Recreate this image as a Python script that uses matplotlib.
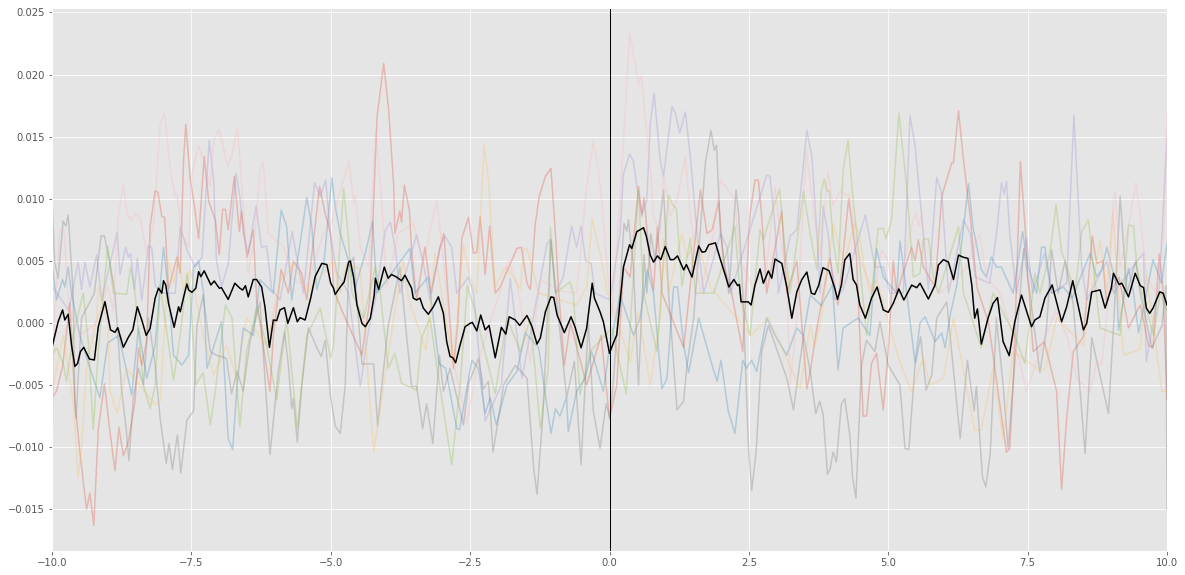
"""Single-trial traces around the event at t=0 with their mean on top."""
import numpy as np
import matplotlib
matplotlib.use("Agg")
import matplotlib.pyplot as plt

# (time, amplitude x 1e-3) for each trial
red = [(-10,-6),(-9.92,-5.5),(-9.81,-3.5),(-9.68,1.6),(-9.59,-6.3),(-9.5,-10.4),(-9.38,-15),(-9.32,-13.7),(-9.25,-16.3),(-9.17,-8.6),
       (-9.06,-4.9),(-8.96,-8.75),(-8.87,-11.9),(-8.8,-8.4),(-8.72,-10.7),(-8.63,-9.55),(-8.51,-6.3),(-8.45,-2),(-8.39,-3.4),(-8.3,-1.4),
       (-8.24,7.75),(-8.15,10.65),(-8.1,10.5),(-8.03,8.56),(-7.98,8.5),(-7.91,2.7),(-7.76,5.3),(-7.7,4),(-7.64,13.1),(-7.6,16),
       (-7.52,11.5),(-7.46,9.9),(-7.37,6.8),(-7.27,13.4),(-7.19,9.8),(-7.07,8.3),(-7.0,5.5),(-6.94,9.15),(-6.89,9.15),(-6.84,7.5),
       (-6.73,11.8),(-6.64,7.35),(-6.6,9),(-6.5,5.3),(-6.39,7.5),(-6.33,1.85),(-6.09,-5.5),(-6.03,-1),(-5.89,4.3),(-5.76,2.4),
       (-5.67,5),(-5.52,4),(-5.43,1.85),(-5.2,11),(-5.1,8.8),(-5.0,7.2),(-4.95,2.7),(-4.8,1),(-4.44,-2.6),(-4.3,1.85),
       (-4.17,16.6),(-4.05,20.9),(-3.96,17.1),(-3.87,11),(-3.85,7.2),(-3.76,9),(-3.73,8.1),(-3.68,11.1),(-3.59,9.1),(-3.55,5.9),
       (-3.46,1.85),(-3.31,6.1),(-3.2,2.4),(-3.04,6.1),(-2.97,7.2),(-2.89,1.85),(-2.8,-3.65),(-2.72,0),(-2.65,6.8),(-2.53,8.5),
       (-2.44,5.6),(-2.38,5.7),(-2.32,8.55),(-2.23,3.9),(-2.15,7.8),(-2.05,2.4),(-1.96,2.9),(-1.66,6),(-1.58,6.1),(-1.48,3.2),
       (-1.42,2.7),(-1.33,8),(-1.26,10.2),(-1.15,11.8),(-1.09,12.2),(-1.05,12.45),(-0.97,7.2),(-0.91,2.4),(-0.81,-3.4),(-0.7,0),
       (-0.41,-5),(-0.15,-1),(0,-7.7),(0.13,-5),(0.25,4.5),(0.37,3.7),(0.52,11),(0.58,8.6),(0.62,10.1),(0.73,4.5),
       (0.79,2.6),(0.86,7.75),(0.94,2.4),(1.33,-2),(1.63,10.7),(1.75,7.2),(1.84,7.5),(1.96,9.8),(2.05,4.5),(2.17,2.9),
       (2.39,-2.3),(2.52,8.8),(2.61,11.5),(2.67,11.5),(2.73,8.6),(2.82,2.4),(3.09,9),(3.18,2.4),(3.36,5),(3.54,-5.3),
       (3.6,-3.9),(3.72,-0.4),(3.95,5.2),(4.1,1.45),(4.29,10),(4.43,5.3),(4.55,-7.5),(4.61,-7.5),(4.7,-3.25),(4.79,-2.45),
       (4.91,-7),(5,-2.3),(5.09,5),(5.15,2.4),(5.42,6.1),(5.48,5),(5.54,6.7),(5.63,4.5),(5.84,2.9),(5.96,10.2),
       (6.08,12),(6.14,12.9),(6.17,12.9),(6.26,17.1),(6.35,13.1),(6.47,8.6),(6.59,2.9),(6.8,0),(7.06,-8.5),(7.12,-10.4),
       (7.18,-10.1),(7.25,-4),(7.37,13),(7.47,6.7),(7.53,1.85),(7.6,-2.3),(7.8,-1.5),(8.02,-5.5),(8.11,-13.4),(8.2,-7.7),
       (8.32,-2.3),(8.5,-1.1),(8.66,7),(8.74,4.8),(8.85,5),(8.91,1.85),(9.14,3.7),(9.31,-0.4),(9.52,1.45),(9.67,-1.8),
       (9.75,-2),(9.86,5.55),(9.93,2.6),(10,-6.2)]

blue = [(-10,4.8),(-9.92,1.85),(-9.81,3.5),(-9.77,2.9),(-9.71,4.5),(-9.65,2.4),(-9.5,-1),(-9.32,-3.65),(-9.14,-6),(-9,-1.6),
        (-8.8,-1),(-8.57,-5.8),(-8.45,-0.4),(-8.3,-4.45),(-8.15,-1.8),(-8,6.1),(-7.91,2.4),(-7.82,-2.6),(-7.67,-3.4),(-7.55,-2.6),
        (-7.46,4.5),(-7.37,5),(-7.28,2.4),(-7.22,-3.65),(-6.96,0.1),(-6.84,-9.3),(-6.76,-10.2),(-6.68,-5),(-6.57,-0.4),(-6.39,-1),
        (-6.27,3.5),(-6.03,2.4),(-5.89,9.1),(-5.79,7.75),(-5.7,1.85),(-5.43,10.1),(-5.34,7.75),(-5.25,2.7),(-5.13,4.5),(-4.98,11.7),
        (-4.92,9.4),(-4.83,7.2),(-4.68,5),(-4.56,2.9),(-4.38,5.6),(-4.25,8.2),(-4.17,2.4),(-3.58,6),(-3.49,2.4),(-3.25,3.7),
        (-3.06,-3.25),(-2.94,-3.65),(-2.74,-8.5),(-2.69,-8.6),(-2.47,-3),(-2.35,-3.65),(-2.23,-7.3),(-2.14,-6),(-2.03,-8.2),(-1.84,-5),
        (-1.66,-3.9),(-1.51,-0.8),(-1.27,-2),(-1.15,-5.8),(-1.05,-8.9),(-0.97,-6.9),(-0.89,-7.5),(-0.77,-6),(-0.74,-8.75),(-0.59,-5.5),
        (-0.44,-4.45),(-0.32,-2.3),(-0.11,-5.5),(-0.02,-2.6),(0.19,2.25),(0.43,-1),(0.55,0.4),(0.68,4.3),(0.79,2.4),(0.94,-5.3),
        (1.03,-4.5),(1.15,2.9),(1.22,2.9),(1.33,-1.8),(1.42,-4),(1.6,0.4),(1.84,-3.4),(1.93,-4.7),(2.0,-3),(2.13,-7.1),
        (2.25,-8.9),(2.39,-3),(2.46,-3.65),(2.55,-3),(2.64,-3.9),(2.82,0.4),(2.97,-1),(3.18,-2.6),(3.36,-0.4),(3.48,-1),
        (3.6,2.25),(3.8,1.4),(4.0,3.06),(4.1,-3.8),(4.19,-0.4),(4.46,0.4),(4.67,-1),(4.79,6),(4.91,3.7),(5.15,2.4),
        (5.21,6.6),(5.33,2.4),(5.48,-3.2),(5.57,0),(5.66,0.5),(5.84,-1.5),(5.96,-0.8),(6.02,-2),(6.11,0.6),(6.23,3.06),
        (6.44,11.2),(6.52,7.75),(6.67,4.3),(6.76,3.7),(6.85,5.3),(6.94,4.5),(7.03,4.5),(7.24,2.4),(7.41,7.35),(7.51,4.5),
        (7.66,2.4),(7.75,6.1),(7.81,6.1),(7.93,2.4),(8.14,2.9),(8.3,2),(8.62,5.6),(8.74,3.7),(8.83,4.3),(8.92,6.1),
        (9.1,2.9),(9.13,-0.6),(9.31,4.4),(9.4,2.4),(9.49,-0.8),(9.63,2.4),(9.75,5.1),(9.9,3.2),(10,6.4)]

purple = [(-10,3),(-9.7,1),(-9.53,4.9),(-9.47,2.7),(-9.41,4.9),(-9.32,2.9),(-9.2,5.5),(-9.11,1.85),(-8.83,7.3),(-8.78,3.9),
          (-8.68,6.1),(-8.63,5.3),(-8.59,5.6),(-8.52,2.7),(-8.47,5.2),(-8.39,1.85),(-8.27,6.2),(-8.21,6.1),(-8.15,3),(-8,2.4),
          (-7.79,2.4),(-7.7,7.75),(-7.58,5.9),(-7.43,4.5),(-7.31,5.3),(-7.18,14.7),(-7.1,11.5),(-7.05,5),(-6.96,2.9),(-6.84,4.7),
          (-6.7,12.1),(-6.63,10.2),(-6.57,7.2),(-6.48,5.6),(-6.34,9.4),(-6.24,6.1),(-6.15,6.2),(-6.06,2.7),(-5.91,1.85),(-5.69,7.35),
          (-5.61,5.3),(-5.49,2.4),(-5.29,11.3),(-5.19,10.2),(-5.09,11.5),(-5.01,7.2),(-4.89,4),(-4.68,2.4),(-4.47,-5.1),(-4.32,-0.5),
          (-4.2,1.85),(-4.02,7.5),(-3.93,8.1),(-3.84,5.9),(-3.76,2.4),(-3.46,7.1),(-3.34,4.8),(-3.22,1.85),(-3.04,6.1),(-2.95,7),
          (-2.83,6.1),(-2.74,2.4),(-2.53,3.7),(-2.44,2.4),(-2.23,-7.9),(-1.94,-5),(-1.78,3.6),(-1.57,-4.45),(-1.12,6.4),(-1.06,6.7),
          (-0.97,2.4),(-0.83,3.7),(-0.68,7.8),(-0.59,6.1),(-0.51,7.8),(-0.43,5),(-0.33,4.8),(-0.26,2.4),(0.01,1.85),(0.19,7.2),
          (0.25,12),(0.36,13.6),(0.43,13),(0.49,11),(0.58,8.8),(0.67,9.9),(0.73,16),(0.8,18.5),(0.91,13.1),(0.97,11.8),
          (1.12,17.4),(1.18,16.9),(1.26,15.3),(1.36,17),(1.45,13.4),(1.57,7.2),(1.69,2.4),(1.99,7.2),(2.11,6.1),(2.17,2.4),
          (2.82,11.9),(2.88,11.8),(2.97,7.75),(3.03,2.4),(3.24,7),(3.36,7.5),(3.54,15.5),(3.63,13.4),(3.72,7.2),(3.78,2.4),
          (3.83,9.4),(3.92,7.2),(4.04,1.85),(4.19,2.7),(4.59,8.7),(4.67,6.7),(4.76,4.5),(4.91,4.5),(5.03,2.4),(5.27,2.4),
          (5.39,16.7),(5.48,14.3),(5.6,8.6),(5.72,2.7),(5.87,11.7),(5.96,10.4),(6.08,2.4),(6.35,8.3),(6.47,7.2),(6.56,3.7),
          (6.82,3.2),(6.95,7.5),(7.03,11.3),(7.08,10.4),(7.12,11.4),(7.18,7.2),(7.3,2.4),(7.48,6.8),(7.59,2.4),(7.8,5.6),
          (7.93,2.4),(8.2,3.2),(8.33,16.7),(8.47,4.5),(8.56,1.85),(8.92,5),(9.04,2.4),(9.52,5.3),(9.58,5.6),(9.63,-3.1),
          (9.86,2.9),(10,14.9)]

gray = [(-10,9.9),(-9.95,4.8),(-9.89,3.6),(-9.8,8.2),(-9.75,7.8),(-9.71,8.7),(-9.62,2.4),(-9.59,-6.3),(-9.57,-7.7),(-9.47,0.4),
        (-9.24,2.4),(-9.12,7),(-9.06,7),(-8.96,4.8),(-8.87,2.4),(-8.75,-5.5),(-8.67,-8.5),(-8.62,-11.1),(-8.54,-6),(-8.45,-3.65),
        (-8.36,-5),(-8.27,0.4),(-8.15,-3.4),(-8.06,-7.7),(-7.95,-11.3),(-7.9,-9.7),(-7.84,-11.8),(-7.75,-9),(-7.69,-12.1),(-7.58,-7.8),
        (-7.46,-7.1),(-7.4,-0.2),(-7.29,2.25),(-7.16,-2.3),(-7.05,-2.6),(-6.87,-2.85),(-6.78,-5.7),(-6.68,-3.9),(-6.57,-5.5),(-6.45,-1.5),
        (-6.27,1.7),(-6.09,-10.6),(-5.94,-3.9),(-5.83,-0.7),(-5.76,-3.4),(-5.7,-6.9),(-5.67,-6.1),(-5.6,-9.6),(-5.52,-5),(-5.4,-0.4),
        (-5.25,-2),(-5.17,-2.7),(-5.1,-1.4),(-5,-6),(-4.92,-8.3),(-4.83,-8.9),(-4.74,-5),(-4.68,4.5),(-4.59,5.3),(-4.44,-3.3),
        (-4.23,-3.3),(-4.16,-8.3),(-3.97,-0.2),(-3.76,4.5),(-3.55,-5.1),(-3.46,-5.1),(-3.35,-8.5),(-3.28,-6.5),(-3.17,-9.7),(-3.05,-2.6),
        (-2.98,-5.5),(-2.86,-3.65),(-2.62,-8.2),(-2.53,-4.9),(-2.35,-2.85),(-2.26,-5.3),(-2.17,-4.7),(-2.09,-10.4),(-2.02,-8.5),(-1.9,-5),
        (-1.69,-3.4),(-1.48,-4.45),(-1.36,-11.7),(-1.3,-13.8),(-1.2,-7.7),(-1.05,6.7),(-0.97,2.9),(-0.77,-6),(-0.63,-3.1),(-0.51,-11.4),
        (-0.38,0.1),(-0.29,-7.1),(-0.17,-10.1),(-0.06,-6.5),(0.01,-7.7),(0.08,-4),(0.19,3),(0.26,8),(0.31,7.4),(0.34,8.3),
        (0.43,4.5),(0.52,-5),(0.62,5.5),(0.67,2.4),(0.74,7.2),(0.82,5),(0.97,10.7),(1.06,2.4),(1.21,-7),(1.33,-6.3),
        (1.39,-3.4),(1.51,0.4),(1.72,12.9),(1.82,15.5),(1.88,13.9),(1.92,14.3),(1.99,7.2),(2.14,2.4),(2.27,10.7),(2.32,8.6),
        (2.39,2.4),(2.49,-9.8),(2.55,-13.5),(2.63,-10.4),(2.73,-2.3),(2.85,-0.2),(3.18,-4.45),(3.3,-7),(3.48,-1),(3.6,-3.9),
        (3.7,-7.3),(3.77,-6.3),(3.83,-7.3),(3.91,-12.2),(3.96,-11.7),(4.01,-10.4),(4.07,-11.2),(4.16,-6.5),(4.22,-6.1),(4.31,-9),
        (4.36,-12.4),(4.42,-14.1),(4.52,-3.4),(4.61,-1.4),(4.76,-2.3),(4.85,0.1),(5,-3.4),(5.21,-5),(5.3,-10.1),(5.37,-10.2),
        (5.48,-3.4),(5.58,-1.1),(5.68,-5.4),(5.78,-4.2),(5.87,0.4),(6.05,1.7),(6.29,-9.3),(6.42,-3),(6.54,-7.1),(6.58,-5.1),
        (6.69,-12.4),(6.75,-13.2),(6.83,-10.5),(6.94,0.4),(7.06,-5),(7.15,-10.1),(7.3,-1.5),(7.43,6),(7.54,2.4),(7.72,-4),
        (7.84,-0.4),(7.93,5.9),(8.05,2.4),(8.17,5),(8.32,1.45),(8.53,-10.5),(8.65,-1.2),(8.95,-7.3),(9.04,-0.4),(9.16,10.2),
        (9.28,2.4),(9.44,5),(9.52,2.4),(9.73,-2),(9.91,-0.2),(9.98,3),(10,-15)]

yellow = [(-10,-5.8),(-9.92,-3.65),(-9.8,-1),(-9.62,-6.3),(-9.53,-12.4),(-9.47,-9.9),(-9.38,-3.65),(-9.2,0.4),(-9.17,2.9),(-9.0,0),
          (-8.96,-5.5),(-8.83,-7.3),(-8.75,-5.5),(-8.66,-3.65),(-8.15,-6.6),(-8.06,-6.3),(-7.91,5),(-7.82,3.2),(-7.73,5.3),(-7.64,2.6),
          (-7.52,4.3),(-7.29,-1),(-7.1,-4.2),(-6.87,-1.8),(-6.69,-4.45),(-6.51,0.4),(-6.15,-1.8),(-5.91,3.4),(-5.64,4.8),(-5.43,2.4),
          (-4.95,5),(-4.83,2.4),(-4.71,4.8),(-4.47,4.3),(-4.23,-10.4),(-4.05,-5),(-3.87,0.4),(-3.7,5),(-3.6,1.85),(-3.29,-2.2),
          (-3.13,5.6),(-3.01,2.4),(-2.8,-3.4),(-2.62,6.3),(-2.5,3.7),(-2.38,2.4),(-2.25,14.4),(-2.17,11.5),(-2.11,7.2),(-2.05,2.9),
          (-1.87,4.5),(-1.72,3.7),(-1.6,2.7),(-1.54,6),(-1.48,5.9),(-1.36,4),(-1.27,2.4),(-0.59,1.45),(-0.41,2.9),(-0.31,8.4),
          (-0.23,6.7),(-0.14,5),(-0.05,2.7),(0.37,-3.1),(0.52,0.9),(0.73,-5),(0.91,0.4),(0.97,6.8),(1.06,2.4),(1.3,7.2),
          (1.39,5.3),(1.57,6.7),(1.81,2.9),(2.54,-1),(2.85,0.4),(3.42,-5.3),(3.6,-0.2),(3.68,-1.9),(3.8,0.4),(4.01,8),
          (4.1,6.4),(4.22,5),(4.39,8),(4.48,7.2),(4.57,4.5),(4.67,2.4),(4.79,3.5),(5.21,-3.2),(5.42,-5.5),(5.63,-2.85),
          (5.75,-5),(5.99,-4.45),(6.17,0.4),(6.55,-8.6),(6.67,-8.6),(6.88,-3.65),(7.06,-9.3),(7.24,-2.3),(7.66,-3.65),(7.81,-3.8),
          (8.02,0.4),(8.5,-1.8),(8.8,6.7),(8.92,2.4),(9.03,9),(9.13,2.4),(9.22,-2.6),(9.52,-2.1),(9.63,3.9),(9.91,-5.5),
          (10,-5.5)]

green = [(-10,-2.6),(-9.92,-2),(-9.8,-3.25),(-9.74,-4.7),(-9.62,-1),(-9.44,2.4),(-9.35,-1.5),(-9.26,-8.6),(-9.17,-2.3),(-9,6.2),
         (-8.9,2.4),(-8.66,2.3),(-8.59,4.5),(-8.51,2.4),(-8.36,-5),(-8.24,-6.9),(-8.15,-5),(-8.06,3.06),(-7.82,-4.6),(-7.7,-1),
         (-7.58,4),(-7.52,2.4),(-7.42,-5),(-7.29,-4),(-7.16,-8.2),(-7.07,-5.5),(-6.89,1.45),(-6.77,0.4),(-6.63,-8.35),(-6.51,-2.3),
         (-6.33,1.2),(-6.15,-1.8),(-5.97,-6.2),(-5.79,0.4),(-5.6,-8.5),(-5.43,-1),(-5.19,1.2),(-5,-2.85),(-4.95,-1.8),(-4.77,10.85),
         (-4.68,6.7),(-4.62,2.4),(-4.41,0.4),(-4.2,4.5),(-4.11,2.4),(-3.97,-3.65),(-3.85,-2.45),(-3.73,-4.85),(-3.46,-5.4),(-3.22,0.4),
         (-3.37,-1.2),(-3.1,-3.4),(-2.83,-11.4),(-2.68,-5),(-2.55,3),(-2.41,0.9),(-2.05,-5.7),(-1.84,0.4),(-1.6,-2.3),(-1.42,0.4),
         (-1.24,-8.5),(-1.1,-3.65),(-1.06,7.7),(-0.97,2.4),(-0.71,3.3),(-0.65,2.4),(-0.53,-5.8),(-0.35,-2.3),(0.04,-0.4),(0.3,-5.7),
         (0.52,10.7),(0.61,2.4),(0.85,-2.3),(1.06,10.3),(1.12,9.6),(1.2,9.2),(1.3,3),(1.45,6.8),(1.54,2.4),(1.87,2.4),
         (2.25,7.75),(2.34,2.4),(2.52,-1),(2.7,7.5),(2.76,6.7),(2.85,8),(2.97,9.7),(3.05,10.8),(3.15,5.9),(3.24,2.4),
         (3.48,10.6),(3.6,7.2),(3.72,4.3),(3.8,10.6),(3.85,11.6),(3.9,10.6),(3.94,10.7),(4.01,6.7),(4.1,4),(4.19,12.3),
         (4.28,14.7),(4.37,9.9),(4.46,6.1),(4.61,-1),(4.7,2.4),(4.82,7.6),(4.91,7.6),(4.96,6.8),(5.06,8.3),(5.19,16.9),
         (5.33,11),(5.45,3.7),(5.57,4),(5.63,6.7),(5.72,6.8),(5.81,3.7),(5.9,2.4),(6.26,7.75),(6.35,2.4),(6.67,-2),
         (6.88,2.4),(7.27,-1),(7.45,-3.25),(7.63,4),(7.72,2.4),(7.9,5.6),(8.01,9.5),(8.11,5.7),(8.17,5),(8.35,2.4),
         (8.47,7.35),(8.59,8.3),(8.68,4.5),(8.8,-0.4),(9.16,-1),(9.22,2.4),(9.31,7.9),(9.4,7.8),(9.46,4.5),(9.55,2.4),
         (9.76,-1),(9.88,2.4),(10,1)]

pink = [(-10,-9.8),(-9.95,1),(-9.86,7.5),(-9.78,7.4),(-9.7,1),(-9.5,-1),(-9.2,0),(-9.0,3),(-8.9,1),(-8.81,8.56),
        (-8.72,11.2),(-8.65,8.7),(-8.57,8.3),(-8.51,8.8),(-8.42,8.5),(-8.3,5.6),(-8.18,7.75),(-8.06,16),(-7.98,16.9),(-7.87,12),
        (-7.79,10.2),(-7.76,10.4),(-7.67,7.2),(-7.55,6.1),(-7.49,12),(-7.37,14.3),(-7.28,13.1),(-7.16,11),(-7.1,14.7),(-7.0,15.6),
        (-6.85,12.6),(-6.78,13.4),(-6.67,15.75),(-6.56,8.6),(-6.48,4),(-6.36,7.2),(-6.27,12.3),(-6.21,13),(-6.12,7.2),(-6,6.7),
        (-5.85,6.2),(-5.67,3.5),(-5.43,2.9),(-5.13,7.2),(-5.01,7.7),(-4.8,11.1),(-4.67,13),(-4.59,9.6),(-4.56,10.3),(-4.47,6.1),
        (-4.32,4.5),(-4.19,15.5),(-4.08,9.4),(-4,2.9),(-3.79,7.2),(-3.52,8),(-3.34,4.8),(-3.1,9.9),(-2.98,5),(-2.8,-3.1),
        (-2.56,-8),(-2.35,-3),(-1.96,2.6),(-1.81,5),(-1.66,3.1),(-1.42,-3.1),(-1.24,3.5),(-0.89,2.6),(-0.59,2.4),(-0.41,11),
        (-0.29,14.6),(-0.2,12.3),(-0.14,9.9),(-0.02,3.2),(0.04,0.5),(0.19,9.9),(0.36,23.4),(0.46,20.9),(0.52,19.2),(0.57,19.9),
        (0.64,16.6),(0.73,12.6),(0.79,8.6),(0.91,7.2),(0.97,12),(1.09,8.6),(1.21,9.9),(1.36,13.4),(1.45,8.6),(1.63,2.4),
        (1.87,7.2),(1.99,11.5),(2.08,11),(2.17,10.4),(2.25,9.9),(2.34,5),(2.58,2.9),(2.82,4.5),(2.97,11),(3.06,7.2),
        (3.18,3.5),(3.24,-5),(3.36,0.4),(3.53,13.9),(3.65,9.4),(3.77,5.3),(3.92,12.2),(4.01,9.4),(4.13,10.6),(4.31,10.2),
        (4.43,5.9),(4.73,2.4),(4.88,5.9),(4.97,5.3),(5.15,2),(5.42,7.8),(5.49,8.9),(5.54,7.8),(5.6,8.8),(5.68,4),
        (5.93,2.4),(6.41,4.5),(6.64,7.2),(6.76,3.7),(7.0,2.4),(7.25,-1),(7.48,-5.5),(7.72,-2.3),(8.0,1),(8.2,-1),
        (8.38,-4.5),(8.62,-5.5),(8.74,-3.1),(8.83,-3.4),(8.95,2),(9.04,9.9),(9.07,10.6),(9.16,4.5),(9.31,7.8),(9.44,11.3),
        (9.52,8.6),(9.63,3.7),(9.81,2.4),(9.94,7.2),(10,16.9)]

# trial average
mean_trace = [(-10,-1.96),(-9.89,0.1),(-9.81,1.05),(-9.77,0.24),(-9.71,0.7),(-9.65,-1.77),(-9.59,-3.5),(-9.54,-3.25),(-9.49,-2.3),(-9.43,-1.96),
              (-9.33,-2.9),(-9.24,-2.98),(-9.17,-0.3),(-9.05,1.72),(-8.95,-0.56),(-8.87,-0.75),(-8.82,-0.38),(-8.72,-1.96),(-8.63,-1.15),(-8.55,-0.56),
              (-8.47,1.3),(-8.39,0.24),(-8.31,-1.0),(-8.24,-0.43),(-8.15,2.0),(-8.09,2.8),(-8.03,2.4),(-8.0,3.4),(-7.96,3.06),(-7.91,1.58),
              (-7.81,-0.35),(-7.73,1.3),(-7.7,0.9),(-7.63,2.25),(-7.58,3.14),(-7.55,2.66),(-7.49,2.47),(-7.42,2.8),(-7.37,4.13),(-7.33,3.73),
              (-7.27,4.2),(-7.15,3.06),(-7.09,3.38),(-7.0,2.8),(-6.96,2.84),(-6.84,1.9),(-6.72,3.2),(-6.63,2.8),(-6.58,2.65),(-6.53,3.0),
              (-6.48,2.1),(-6.39,3.5),(-6.33,3.5),(-6.24,2.9),(-6.18,1.3),(-6.1,-1.96),(-6.03,0.24),(-5.97,0.19),(-5.91,1.05),(-5.83,1.23),
              (-5.77,-0.03),(-5.67,1.23),(-5.6,0.1),(-5.55,0.43),(-5.46,0.24),(-5.36,2),(-5.31,3.06),(-5.28,3.73),(-5.16,4.8),(-5.07,4.7),
              (-5.0,3.2),(-4.95,2.8),(-4.92,2.3),(-4.83,2.9),(-4.76,3.3),(-4.68,4.9),(-4.65,5.0),(-4.59,3.7),(-4.53,1.45),(-4.44,-0.03),
              (-4.38,-0.3),(-4.29,0.38),(-4.22,2.25),(-4.2,3.6),(-4.14,2.7),(-4.04,4.5),(-3.97,3.6),(-3.91,3.9),(-3.82,3.7),(-3.73,3.4),
              (-3.67,3.85),(-3.55,2.8),(-3.52,2),(-3.46,1.85),(-3.4,2),(-3.34,1.2),(-3.25,0.7),(-3.16,1.3),(-3.07,2.1),(-2.98,0.78),
              (-2.92,-1.5),(-2.86,-2.7),(-2.81,-2.8),(-2.76,-3.2),(-2.68,-1.77),(-2.59,-0.3),(-2.5,-0.03),(-2.46,0.05),(-2.38,-0.64),(-2.31,0.64),
              (-2.23,-0.56),(-2.16,-0.2),(-2.05,-2.8),(-1.94,-0.35),(-1.86,-0.9),(-1.8,0.5),(-1.69,0.24),(-1.61,-0.2),(-1.48,0.6),(-1.39,-0.3),
              (-1.3,-1.7),(-1.24,-1.2),(-1.15,0.9),(-1.05,2.1),(-1.0,2.05),(-0.94,0.64),(-0.81,-0.78),(-0.69,0.5),(-0.62,-0.3),(-0.51,-2),
              (-0.41,-0.43),(-0.31,3.2),(-0.27,2),(-0.17,0.9),(-0.11,0.1),(0,-2.44),(0.07,-1.6),(0.13,-0.97),(0.22,3.06),(0.25,4.5),
              (0.36,6.3),(0.4,6.0),(0.49,7.35),(0.61,7.67),(0.66,7.0),(0.73,5.47),(0.79,4.9),(0.86,5.4),(0.92,5.1),(1.0,6.15),
              (1.09,5.1),(1.15,5.1),(1.22,5.4),(1.33,4.27),(1.38,4.7),(1.48,3.7),(1.6,6.2),(1.66,5.7),(1.72,5.75),(1.78,6.3),
              (1.9,6.45),(1.99,5.1),(2.08,3.8),(2.14,2.9),(2.23,3.5),(2.3,3.0),(2.33,3.1),(2.36,1.7),(2.49,1.7),(2.54,1.45),
              (2.61,3.06),(2.7,4.35),(2.76,3.2),(2.85,4.2),(2.91,3.6),(2.97,5.15),(3.09,4.8),(3.18,2.9),(3.27,0.38),(3.36,2.5),
              (3.45,3.5),(3.54,4.1),(3.62,2.4),(3.68,2.3),(3.75,3.0),(3.83,4.45),(3.94,4.2),(4.04,2.8),(4.09,1.9),(4.16,3.06),
              (4.22,5.07),(4.31,5.6),(4.37,3.5),(4.43,3.06),(4.49,1.45),(4.59,0.38),(4.7,2),(4.8,2.9),(4.91,1.05),(5,0.86),
              (5.09,1.58),(5.19,2.74),(5.28,1.85),(5.42,3.05),(5.51,2.84),(5.57,3.2),(5.72,1.93),(5.84,3.06),(5.9,4.67),(5.99,5.1),
              (6.08,4.9),(6.17,3.5),(6.26,5.47),(6.34,5.3),(6.43,5.2),(6.5,3),(6.55,0.38),(6.6,1.13),(6.67,-1.7),(6.79,0.38),
              (6.88,1.58),(6.96,2.04),(7.06,-1.5),(7.17,-2.63),(7.27,0.1),(7.39,2.25),(7.57,-0.3),(7.63,0.24),(7.72,0.5),(7.81,2),
              (7.94,3.06),(8.11,0.1),(8.2,1.3),(8.31,3.4),(8.5,-0.56),(8.56,-0.03),(8.65,2.5),(8.8,2.66),(8.89,1.2),(9.0,2.8),
              (9.04,4.0),(9.14,3.1),(9.19,3.2),(9.31,2.1),(9.43,4.0),(9.52,3),(9.58,2.85),(9.63,1.2),(9.69,0.78),(9.75,1.2),
              (9.87,2.5),(9.93,2.4),(10,1.45)]

x_ticks = [-10, -7.5, -5, -2.5, 0, 2.5, 5, 7.5, 10]
y_ticks = [-0.015, -0.01, -0.005, 0, 0.005, 0.01, 0.015, 0.02, 0.025]


def unpack(trace):
    pts = np.array(trace, dtype=float)
    pts = pts[pts[:, 0].argsort()]
    return pts[:, 0], pts[:, 1] / 1000


plt.style.use("ggplot")
fig = plt.figure(figsize=(1185 / 72, 575 / 72), dpi=72)
ax = fig.add_axes([52 / 1185, 24 / 575, 1115 / 1185, 543 / 575])

# colours come from the ggplot cycle
for trace in [red, blue, purple, gray, yellow, green, pink]:
    t, v = unpack(trace)
    ax.plot(t, v, alpha=0.3)

t, v = unpack(mean_trace)
ax.plot(t, v, color="k")
ax.axvline(0, color="k", linewidth=1)

ax.set_xlim(-10, 10)
ax.set_ylim(-0.01836, 0.02536)
ax.set_xticks(x_ticks)
ax.set_yticks(y_ticks)

fig.savefig("out.png", dpi=72)
